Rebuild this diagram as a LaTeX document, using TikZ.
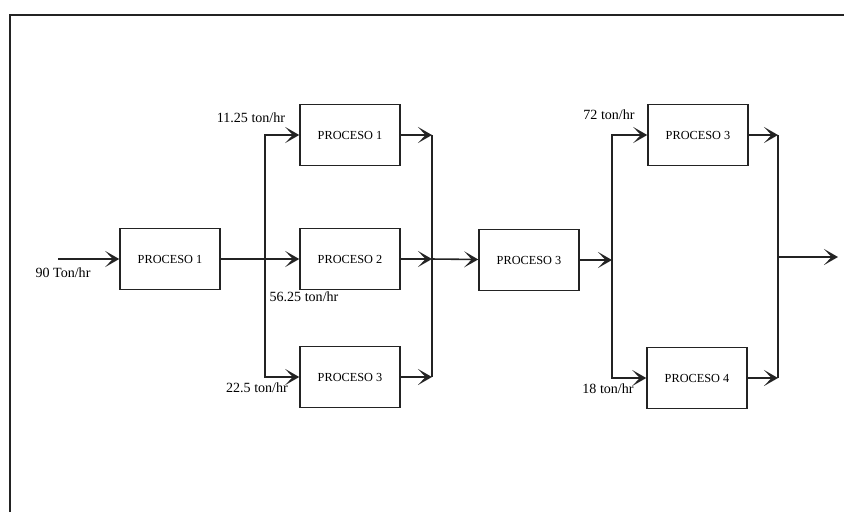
\documentclass[tikz,border=0pt]{standalone}
\usepackage{fontspec}
\setmainfont{Liberation Serif}
\usepackage{tikz}
\usetikzlibrary{arrows.meta}
\definecolor{figK}{RGB}{35,35,35}
\tikzset{procbox/.style={draw=figK, line width=0.9pt, minimum width=2cm, minimum height=1.22cm,
  inner sep=0pt, font=\fontsize{7}{8}\selectfont},
  flow/.style={draw=figK, line width=0.9pt, -{Stealth[length=2.8mm, width=3.2mm, inset=1.5mm]}},
  bus/.style={draw=figK, line width=0.9pt},
  rate/.style={inner sep=0pt, font=\fontsize{8}{9}\selectfont}}

\begin{document}
\begin{tikzpicture}[x=0.02cm, y=-0.02cm]
  \useasboundingbox (0,0) rectangle (844,512);
  \draw[figK, line width=1.4pt] (10,512) -- (10,15) -- (844,15);

  \coordinate (in) at (58,259);
  \node[procbox] (pa) at (170,259) {PROCESO 1};
  \node[procbox] (pb1) at (350,135) {PROCESO 1};
  \node[procbox] (pb2) at (350,259) {PROCESO 2};
  \node[procbox] (pb3) at (350,377) {PROCESO 3};
  \node[procbox] (pc) at (529,260) {PROCESO 3};
  \node[procbox] (pd1) at (698,135) {PROCESO 3};
  \node[procbox] (pd2) at (697,378) {PROCESO 4};
  \coordinate (split1) at (265,259);
  \coordinate (join1) at (432,259);
  \coordinate (split2) at (612,260);
  \coordinate (join2) at (778,257);
  \coordinate (out) at (838,257);

  % first stage
  \draw[flow] (in) -- (pa);
  \draw[flow] (pa) -- (pb2);
  \draw[flow] (split1) |- (pb1.west);
  \draw[flow] (split1) |- (pb3.west);
  \draw[flow] (pb1.east) -- (pb1.east -| join1);
  \draw[flow] (pb2.east) -- (join1);
  \draw[flow] (pb3.east) -- (pb3.east -| join1);
  \draw[bus] (pb1.east -| join1) -- (pb3.east -| join1);
  \draw[flow] (join1) -- (pc);

  % second stage
  \draw[flow] (pc.east) -- (split2);
  \draw[flow] (split2) |- (pd1.west);
  \draw[flow] (split2) |- (pd2.west);
  \draw[flow] (pd1.east) -- (pd1.east -| join2);
  \draw[flow] (pd2.east) -- (pd2.east -| join2);
  \draw[bus] (pd1.east -| join2) -- (pd2.east -| join2);
  \draw[flow] (join2) -- (out);

  \node[rate] (rin) at (63,273) {90 Ton/hr};
  \node[rate] (rb1) at (251,118) {11.25 ton/hr};
  \node[rate] (rb2) at (304,297) {56.25 ton/hr};
  \node[rate] (rb3) at (257,388) {22.5 ton/hr};
  \node[rate] (rd1) at (609,115) {72 ton/hr};
  \node[rate] (rd2) at (608,389) {18 ton/hr};
\end{tikzpicture}
\end{document}
